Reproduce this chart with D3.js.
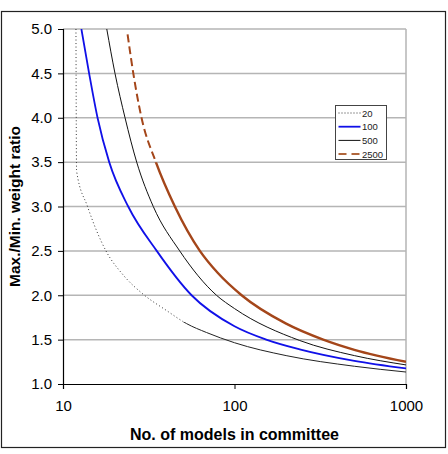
<!DOCTYPE html>
<html>
<head>
<meta charset="utf-8">
<script src="https://cdn.jsdelivr.net/npm/d3@7"></script>
<style>
  body { margin: 0; background: #fff; }
  text { font-family: "Liberation Sans", Arial, sans-serif; }
</style>
</head>
<body>
<svg id="chart" width="448" height="454"></svg>
<script>
// values: [models in committee, max/min weight ratio]
const series20 = [[11.9, 5.0], [12, 3.4], [13.9, 3.0], [17.8, 2.5], [22.4, 2.23], [29.4, 2.01],
  [40, 1.83], [52.6, 1.68], [68.7, 1.58], [100, 1.465], [200, 1.32], [500, 1.2], [1000, 1.135]];
const series100 = [[12.8, 5.0], [14.2, 4.5], [15.9, 4.0], [18.6, 3.5], [24, 3.0], [35.2, 2.5],
  [56.2, 2.0], [100, 1.65], [153, 1.5], [240, 1.39], [500, 1.26], [1000, 1.175]];
const series500 = [[18, 5.0], [20.1, 4.5], [23, 4.0], [26.9, 3.5], [33.6, 3.0], [47.9, 2.5],
  [78.5, 2.0], [100, 1.85], [240, 1.49], [500, 1.32], [1000, 1.215]];
const series2500 = [[23.8, 4.94], [25.7, 4.5], [28.7, 4.0], [34.8, 3.5], [44.9, 3.0], [62.8, 2.5],
  [80, 2.25], [110, 2.0], [200, 1.68], [329, 1.5], [500, 1.385], [1000, 1.25]];

const seriesNames = ["20", "100", "500", "2500"];
const xTicks = [10, 100, 1000];
const yTicks = [1.0, 1.5, 2.0, 2.5, 3.0, 3.5, 4.0, 4.5, 5.0];

const svg = d3.select("#chart");
const margin = {left: 63, right: 42, top: 29, bottom: 70};
const W = 448, H = 454;

// outer frame
svg.append("rect")
  .attr("x", 1.5).attr("y", 11.5)
  .attr("width", 444).attr("height", 436)
  .attr("fill", "none").attr("stroke", "#222").attr("stroke-width", 1.2);

const x = d3.scaleLog().domain([10, 1000]).range([margin.left, W - margin.right]);
const y = d3.scaleLinear().domain([1, 5]).range([H - margin.bottom, margin.top]);

// gridlines
svg.append("g")
  .selectAll("line")
  .data(yTicks.filter(d => d > 1))
  .join("line")
  .attr("x1", x(10)).attr("x2", x(1000))
  .attr("y1", d => y(d)).attr("y2", d => y(d))
  .attr("stroke", "#b5b5b5").attr("stroke-width", 1.5);
svg.append("line")
  .attr("x1", x(1000)).attr("x2", x(1000))
  .attr("y1", y(5)).attr("y2", y(1))
  .attr("stroke", "#b5b5b5").attr("stroke-width", 1.5);

// clips: upper part drawn dashed/dotted, lower part solid
const defs = svg.append("defs");
function addClip(id, y0, y1) {
  defs.append("clipPath").attr("id", id)
    .append("rect")
    .attr("x", x(10)).attr("width", x(1000) - x(10))
    .attr("y", y0).attr("height", y1 - y0);
}
addClip("plot", y(5), y(1));
addClip("up20", y(5), y(1.7));
addClip("low20", y(1.7), y(1));
addClip("up2500", y(5), y(3.5));
addClip("low2500", y(3.5), y(1));

const line = d3.line()
  .x(d => x(d[0]))
  .y(d => y(d[1]))
  .curve(d3.curveMonotoneX);

const lines = svg.append("g");
function draw(data, clip, color, width, dash) {
  lines.append("path")
    .datum(data)
    .attr("d", line)
    .attr("clip-path", `url(#${clip})`)
    .attr("fill", "none")
    .attr("stroke", color)
    .attr("stroke-width", width)
    .attr("stroke-dasharray", dash);
}
draw(series20, "up20", "#333", 1, "1,2.5");
draw(series20, "low20", "#222", 1, null);
draw(series100, "plot", "#1010e8", 1.8, null);
draw(series500, "plot", "#111", 1, null);
draw(series2500, "up2500", "#a4461a", 2, "8,4");
draw(series2500, "low2500", "#a4461a", 2.4, null);

// axes
const yAxis = svg.append("g")
  .attr("transform", `translate(${x(10)},0)`)
  .call(d3.axisLeft(y).tickValues(yTicks).tickFormat(d3.format(".1f")).tickSize(5).tickPadding(6));
const xAxis = svg.append("g")
  .attr("transform", `translate(0,${y(1)})`)
  .call(d3.axisBottom(x).tickValues(xTicks).tickFormat(d3.format("d")).tickSize(5).tickPadding(11));
[xAxis, yAxis].forEach(a => {
  a.select(".domain").attr("stroke", "#000").attr("stroke-width", 1.2);
  a.selectAll(".tick line").attr("stroke", "#000");
  a.selectAll("text").attr("font-size", 15).attr("fill", "#000")
    .attr("font-family", "'Liberation Sans', Arial, sans-serif");
});

// titles
svg.append("text")
  .attr("x", (x(10) + x(1000)) / 2).attr("y", 440)
  .attr("text-anchor", "middle")
  .attr("font-size", 16).attr("font-weight", "bold")
  .text("No. of models in committee");
svg.append("text")
  .attr("transform", `translate(20,${(y(1) + y(5)) / 2}) rotate(-90)`)
  .attr("text-anchor", "middle")
  .attr("font-size", 15.5).attr("font-weight", "bold")
  .text("Max./Min. weight ratio");

// legend
const legend = svg.append("g").attr("transform", "translate(335.5,105.5)");
legend.append("rect")
  .attr("width", 51).attr("height", 54)
  .attr("fill", "#fff").attr("stroke", "#444").attr("stroke-width", 1);
const legStyles = [
  {color: "#333", width: 1, dash: "1,2"},
  {color: "#1010e8", width: 1.8, dash: null},
  {color: "#111", width: 1, dash: null},
  {color: "#b0663c", width: 2, dash: "8,5"}
];
seriesNames.forEach((name, i) => {
  const yy = 7.5 + i * 13.7;
  legend.append("line")
    .attr("x1", 3).attr("x2", 25).attr("y1", yy).attr("y2", yy)
    .attr("stroke", legStyles[i].color)
    .attr("stroke-width", legStyles[i].width)
    .attr("stroke-dasharray", legStyles[i].dash);
  legend.append("text")
    .attr("x", 26.5).attr("y", yy + 3.5)
    .attr("font-size", 9.5).attr("fill", "#222")
    .text(name);
});
</script>
</body>
</html>
